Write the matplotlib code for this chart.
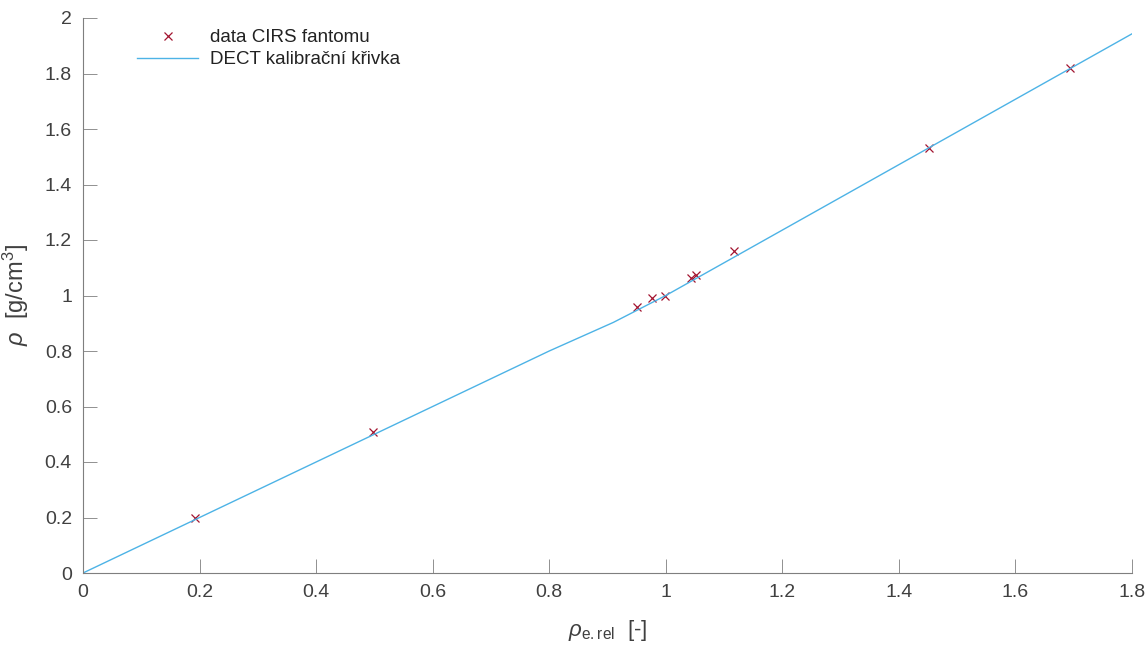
import matplotlib
matplotlib.use("Agg")
import matplotlib.pyplot as plt
import numpy as np

# CIRS phantom measurements
rho_e_rel = [0.192, 0.497, 0.951, 0.976, 0.999, 1.044, 1.052, 1.117, 1.452, 1.694]
rho_meas = [0.197, 0.508, 0.959, 0.991, 0.997, 1.062, 1.073, 1.160, 1.532, 1.820]

# DECT calibration curve (piecewise linear)
curve_x = [0.0, 0.80, 0.91, 1.0, 1.8]
curve_y = [0.0, 0.80, 0.903, 1.0, 1.943]

plt.rcParams['font.family'] = ['Liberation Sans', 'DejaVu Sans']
plt.rcParams['mathtext.fontset'] = 'custom'
plt.rcParams['mathtext.rm'] = 'Liberation Sans'
plt.rcParams['mathtext.it'] = 'Liberation Sans:italic'

axis_col = '#7f7f7f'
text_col = '#404040'

fig = plt.figure(figsize=(11.47, 6.48), dpi=100)
ax = fig.add_axes([83 / 1147, 75 / 648, (1132 - 83) / 1147, (573 - 18) / 648])

ax.plot(rho_e_rel, rho_meas, 'x', color='#A2142F', markersize=5.8, markeredgewidth=0.9,
        label='data CIRS fantomu')
ax.plot(curve_x, curve_y, '-', color='#4DB3E6', linewidth=1.0,
        label='DECT kalibrační křivka')

ax.set_xlim(0, 1.8)
ax.set_ylim(0, 2)
xt = np.round(np.arange(0, 1.81, 0.2), 1)
yt = np.round(np.arange(0, 2.01, 0.2), 1)
ax.set_xticks(xt)
ax.set_yticks(yt)
ax.set_xticklabels([f'{v:g}' for v in xt])
ax.set_yticklabels([f'{v:g}' for v in yt])

for s in ['top', 'right']:
    ax.spines[s].set_visible(False)
for s in ['left', 'bottom']:
    ax.spines[s].set_color(axis_col)
    ax.spines[s].set_linewidth(0.8)
ax.tick_params(direction='in', length=10, width=0.6, color=axis_col,
               labelcolor=text_col, labelsize=14, pad=8)

ax.set_xlabel(r'$\rho_{\rm e.rel}$  [-]', fontsize=16, color=text_col, labelpad=12)
ax.set_ylabel(r'$\rho$  [g/cm$^{3}$]', fontsize=17, color=text_col, labelpad=10)

leg = ax.legend(loc='upper left', bbox_to_anchor=(0.035, 1.01), frameon=False,
                fontsize=13.5, handlelength=3.3, handletextpad=0.6,
                labelspacing=0.25)
for t in leg.get_texts():
    t.set_color('#222222')

fig.savefig('out.png', dpi=100)
